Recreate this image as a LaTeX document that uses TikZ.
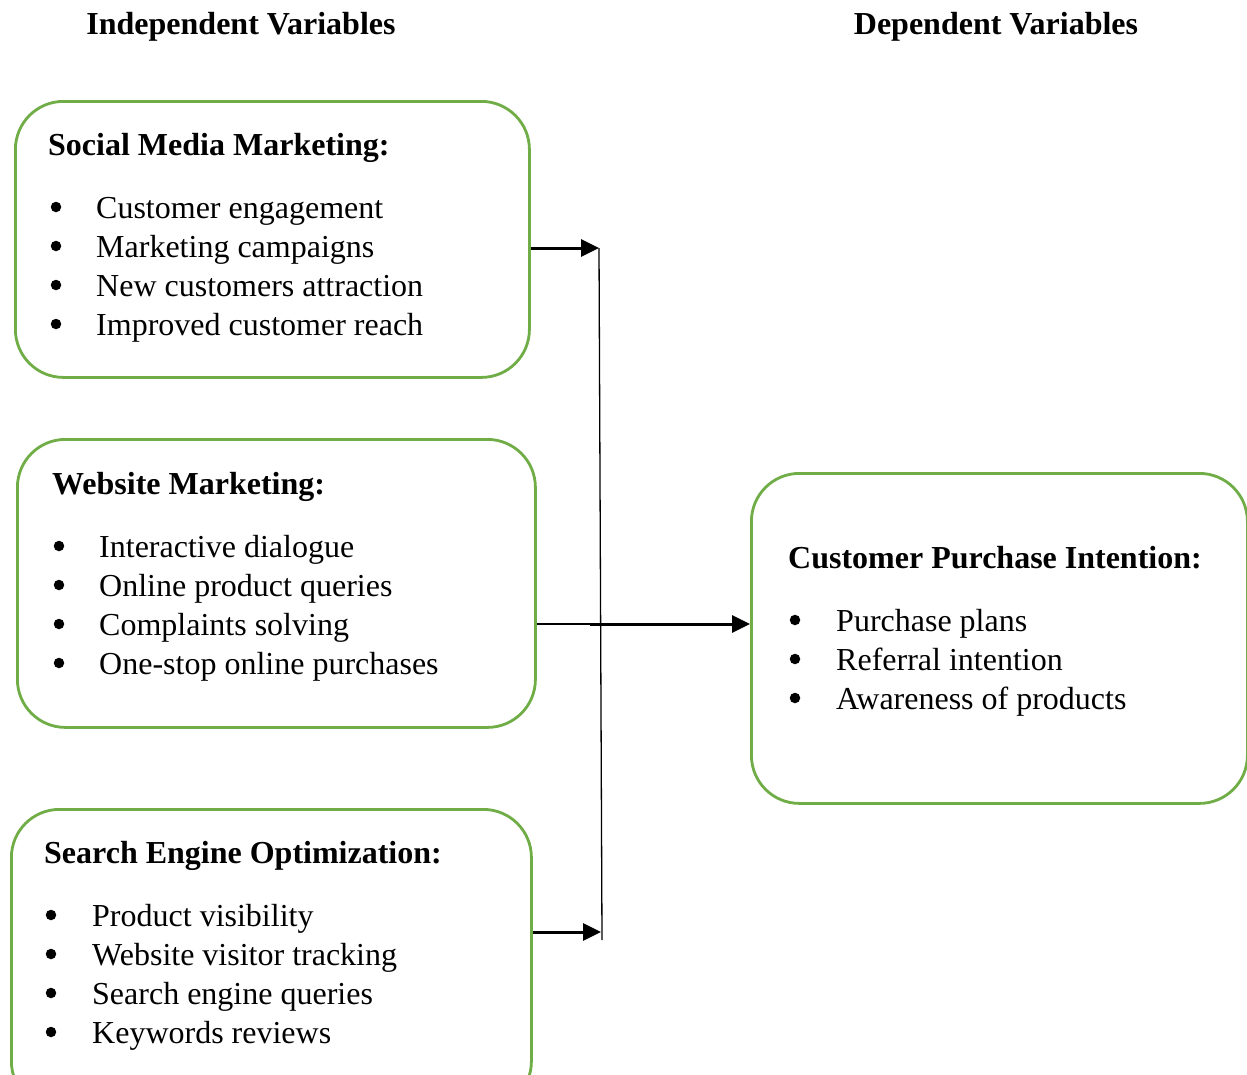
\documentclass[tikz,border=0pt]{standalone}
\usepackage{fontspec}
\setmainfont{Liberation Serif}
\usetikzlibrary{arrows.meta}
\begin{document}
\begin{tikzpicture}[x=1pt,y=-1pt,
  varbox/.style={draw=boxgreen, line width=2.8pt, rounded corners=48pt, inner sep=0pt, anchor=north west},
  head/.style={anchor=base, font=\bfseries, inner sep=0pt},
  boxtitle/.style={anchor=base west, font=\bfseries, inner sep=0pt},
  item/.style={anchor=base west, inner sep=0pt},
  dot/.style={circle, fill=black, inner sep=0pt, minimum size=10.5pt, yshift=11pt},
  feed/.style={line width=3pt, -{Triangle[length=18pt,width=17pt]}},
  bus/.style={line width=1.3pt}
]
\definecolor{boxgreen}{HTML}{70AD47}
\fontsize{32}{39}\selectfont
\useasboundingbox (0,0) rectangle (1247,1074);
\clip (0,0) rectangle (1247,1074);

% column headings
\node[head] (hind) at (241,34) {Independent Variables};
\node[head] (hdep) at (996,34) {Dependent Variables};

% boxes
\node[varbox, minimum width=514pt, minimum height=276pt] (smm) at (14,100) {};
\node[varbox, minimum width=518pt, minimum height=288pt] (wm) at (16,438) {};
\node[varbox, minimum width=520pt, minimum height=300pt] (seo) at (10,808) {};
\node[varbox, minimum width=496pt, minimum height=330pt] (cpi) at (750,472) {};

% Social Media Marketing
\node[boxtitle] (t1) at (48,155) {Social Media Marketing:};
\foreach \txt [count=\i] in {Customer engagement, Marketing campaigns, New customers attraction, Improved customer reach}{
  \node[dot] (b1\i) at (56,218+39*\i-39) {};
  \node[item] (i1\i) at (96,218+39*\i-39) {\txt};
}

% Website Marketing
\node[boxtitle] (t2) at (52,494) {Website Marketing:};
\foreach \txt [count=\i] in {Interactive dialogue, Online product queries, Complaints solving, One-stop online purchases}{
  \node[dot] (b2\i) at (59,557+39*\i-39) {};
  \node[item] (i2\i) at (99,557+39*\i-39) {\txt};
}

% Search Engine Optimization
\node[boxtitle] (t3) at (44,863) {Search Engine Optimization:};
\foreach \txt [count=\i] in {Product visibility, Website visitor tracking, Search engine queries, Keywords reviews}{
  \node[dot] (b3\i) at (51,926+39*\i-39) {};
  \node[item] (i3\i) at (92,926+39*\i-39) {\txt};
}

% Customer Purchase Intention
\node[boxtitle] (t4) at (788,568) {Customer Purchase Intention:};
\foreach \txt [count=\i] in {Purchase plans, Referral intention, Awareness of products}{
  \node[dot] (b4\i) at (795,631+39*\i-39) {};
  \node[item] (i4\i) at (836,631+39*\i-39) {\txt};
}

% connectors
\coordinate (bustop) at (599,248);
\coordinate (busbot) at (602,940);
\coordinate (busmid) at (590,624);
\coordinate (seoin) at (601,932);
\draw[bus] (bustop) -- (busbot);
\draw[feed] (smm.east |- bustop) -- (bustop);
\draw[feed] (seo.east |- seoin) -- (seoin);
\draw[bus] (wm.east |- busmid) -- (busmid);
\draw[feed] (busmid) -- (cpi.west |- busmid);
\end{tikzpicture}
\end{document}
